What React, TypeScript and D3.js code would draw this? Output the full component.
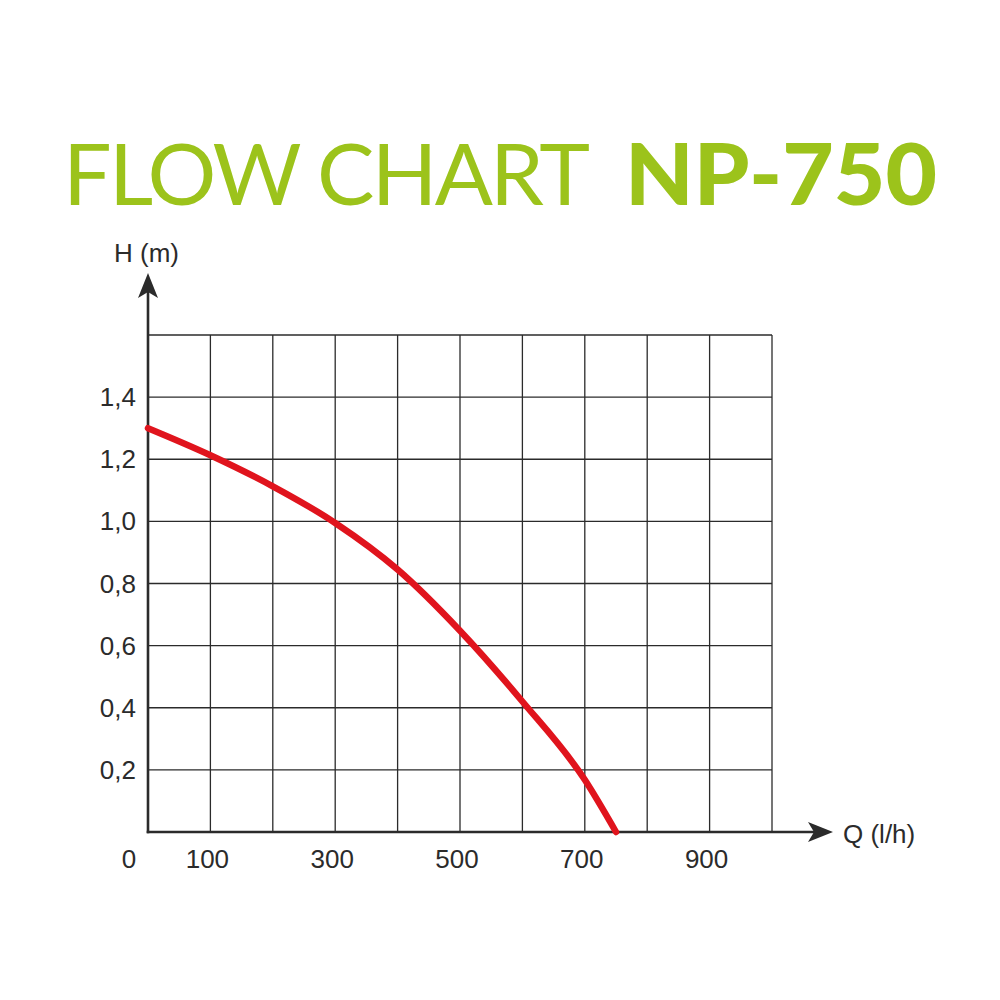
import React from "react";
import * as d3 from "d3";

const flowQ = [0, 100, 200, 300, 400, 500, 600, 700, 750];
const headH = [1.3, 1.213, 1.113, 0.995, 0.845, 0.648, 0.42, 0.168, 0];
const xTickLabels = [0, 100, 300, 500, 700, 900];
const yTickValues = [0.2, 0.4, 0.6, 0.8, 1.0, 1.2, 1.4];
const xGrid = [100, 200, 300, 400, 500, 600, 700, 800, 900, 1000];
const yGrid = [0.2, 0.4, 0.6, 0.8, 1.0, 1.2, 1.4, 1.6];

const GREEN = "#9cc31b";
const INK = "#2b2b2b";
const RED = "#e0141d";

export default function App() {
  const x = d3.scaleLinear().domain([0, 1000]).range([148, 772]);
  const y = d3.scaleLinear().domain([0, 1.6]).range([832, 335]);
  const pts: [number, number][] = flowQ.map((q, i) => [q, headH[i]]);
  const line = d3
    .line<[number, number]>()
    .x((d) => x(d[0]))
    .y((d) => y(d[1]))
    .curve(d3.curveMonotoneX);

  const x0 = x(0);
  const y0 = y(0);
  const yTip = 273;
  const xTip = 833;
  const font = "'Liberation Sans', Arial, sans-serif";

  return (
    <svg
      width={1000}
      height={1000}
      viewBox="0 0 1000 1000"
      style={{ position: "absolute", left: 0, top: 0, background: "#fff" }}
    >
      <rect x={0} y={0} width={1000} height={1000} fill="#fff" />
      <text
        x={63}
        y={205}
        fill={GREEN}
        fontFamily="Lato, 'DejaVu Sans', sans-serif"
        fontSize={86}
      >
        <tspan textLength={527} lengthAdjust="spacing">FLOW CHART</tspan>
      </text>
      <text
        x={625}
        y={205}
        fill={GREEN}
        fontFamily="Lato, 'DejaVu Sans', sans-serif"
        fontSize={86}
        fontWeight={900}
        textLength={312}
        lengthAdjust="spacingAndGlyphs"
      >
        NP-750
      </text>

      {/* grid */}
      <g stroke={INK} strokeWidth={1.3}>
        {xGrid.map((g) => (
          <line key={"vx" + g} x1={x(g)} x2={x(g)} y1={y(1.6)} y2={y0} />
        ))}
        {yGrid.map((g) => (
          <line key={"hy" + g} x1={x0} x2={x(1000)} y1={y(g)} y2={y(g)} />
        ))}
      </g>

      {/* axes */}
      <g stroke={INK} strokeWidth={2.6} fill="none">
        <line x1={x0} x2={x0} y1={y0 + 1.3} y2={yTip + 12} />
        <line x1={x0 - 1.3} x2={xTip - 12} y1={y0} y2={y0} />
      </g>
      <path
        d={`M${x0},${yTip} L${x0 + 10},${yTip + 25} L${x0},${yTip + 19} L${x0 - 10},${yTip + 25} Z`}
        fill={INK}
      />
      <path
        d={`M${xTip},${y0} L${xTip - 25},${y0 - 10} L${xTip - 19},${y0} L${xTip - 25},${y0 + 10} Z`}
        fill={INK}
      />

      {/* curve */}
      <path
        d={line(pts) || ""}
        fill="none"
        stroke={RED}
        strokeWidth={6.5}
        strokeLinecap="round"
      />

      {/* tick labels */}
      <g fill={INK} fontFamily={font} fontSize={26}>
        {yTickValues.map((v) => (
          <text
            key={"yl" + v}
            x={136}
            y={y(v)}
            textAnchor="end"
            dominantBaseline="central"
          >
            {v.toFixed(1).replace(".", ",")}
          </text>
        ))}
        {xTickLabels.map((v) => (
          <text
            key={"xl" + v}
            x={v === 0 ? 129 : x(v) - 3}
            y={868}
            textAnchor="middle"
          >
            {v}
          </text>
        ))}
        <text x={114} y={262}>H (m)</text>
        <text x={843} y={843}>Q (l/h)</text>
      </g>
    </svg>
  );
}
